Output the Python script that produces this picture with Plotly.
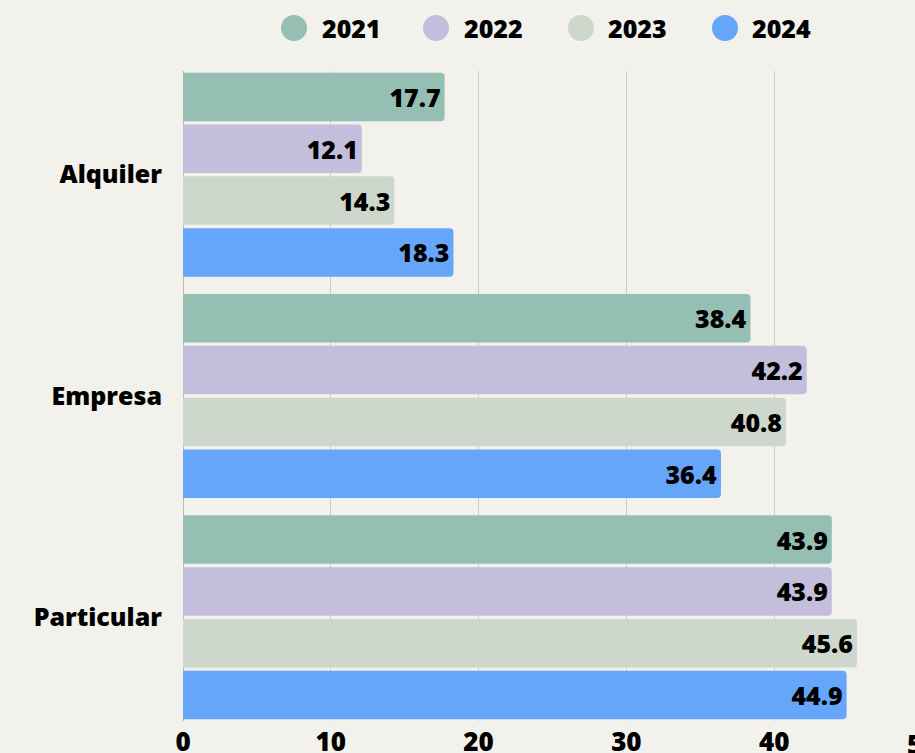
import plotly.graph_objects as go

categories = ["Alquiler", "Empresa", "Particular"]
years = ["2021", "2022", "2023", "2024"]
values_2021 = [17.7, 38.4, 43.9]
values_2022 = [12.1, 42.2, 43.9]
values_2023 = [14.3, 40.8, 45.6]
values_2024 = [18.3, 36.4, 44.9]
colors = ["#95BFB2", "#C2BEDC", "#CDD7CC", "#66A6FA"]
x_ticks = [0, 10, 20, 30, 40, 50]

series = [values_2021, values_2022, values_2023, values_2024]
FONT = "Open Sans"
BG = "#F2F1EC"
bargap = 0.063
X_MAX = 49.53

W, H = 915, 753
ML, MR, MT, MB = 183, 0, 71, 32
PW, PH = W - ML - MR, H - MT - MB

fig = go.Figure()
for yr, vals, col in zip(years, series, colors):
    fig.add_trace(go.Bar(
        y=categories, x=vals, orientation="h", name=yr,
        marker=dict(color=col, cornerradius=4, line=dict(width=0)),
        text=[f"{v:.1f}" for v in vals], textposition="inside",
        insidetextanchor="end",
        textfont=dict(family=FONT, size=25, color="#000000", weight=800),
        showlegend=False,
    ))

# custom legend (large circles)
legend_circle_px = [294, 436, 581, 725]
legend_text_px = [320, 462, 606, 750]
legend_y_px = 28
for yr, col, cx, tx in zip(years, colors, legend_circle_px, legend_text_px):
    fig.add_shape(type="circle", xref="paper", yref="paper",
                  xsizemode="pixel", ysizemode="pixel",
                  xanchor=(cx - ML) / PW, yanchor=(H - MB - legend_y_px) / PH,
                  x0=-13, x1=13, y0=-13, y1=13,
                  fillcolor=col, line=dict(width=0))
    fig.add_annotation(x=(tx - ML) / PW, y=(H - MB - legend_y_px) / PH,
                       xref="paper", yref="paper", xanchor="left", yanchor="middle",
                       text=yr, showarrow=False,
                       font=dict(family=FONT, size=25, color="#000000", weight=800))

fig.update_layout(
    width=W, height=H,
    paper_bgcolor=BG, plot_bgcolor=BG,
    margin=dict(l=ML, r=MR, t=MT, b=MB, autoexpand=False),
    barmode="group", bargap=bargap, bargroupgap=0.065,
    showlegend=False,
    xaxis=dict(range=[0, X_MAX], tickvals=x_ticks, showgrid=True, gridcolor="#CCCCCC",
               gridwidth=1, zeroline=True, zerolinecolor="#BBBBBB", zerolinewidth=1,
               showline=False, ticks="", ticklabelstandoff=3, automargin=False,
               tickfont=dict(family=FONT, size=26, color="#000000", weight=800)),
    yaxis=dict(categoryorder="array", categoryarray=categories,
               range=[2.5 - bargap / 2, -0.5 + bargap / 2], automargin=False,
               showgrid=False, zeroline=False, showline=False, ticks="",
               ticklabelstandoff=20,
               tickfont=dict(family=FONT, size=25, color="#000000", weight=800)),
    font=dict(family=FONT),
)
# the "50" tick lies just beyond the visible range (cut by the page edge)
fig.add_annotation(
    x=x_ticks[-1] / X_MAX, xref="paper", xanchor="center",
    y=0, yref="paper", yanchor="top", yshift=-3,
    text=str(x_ticks[-1]), showarrow=False,
    font=dict(family=FONT, size=26, color="#000000", weight=800),
)
fig.write_html(
    "out.html",
    config={"displayModeBar": False},
    post_script="document.body.style.margin='0';document.body.style.background='%s';" % BG,
)
